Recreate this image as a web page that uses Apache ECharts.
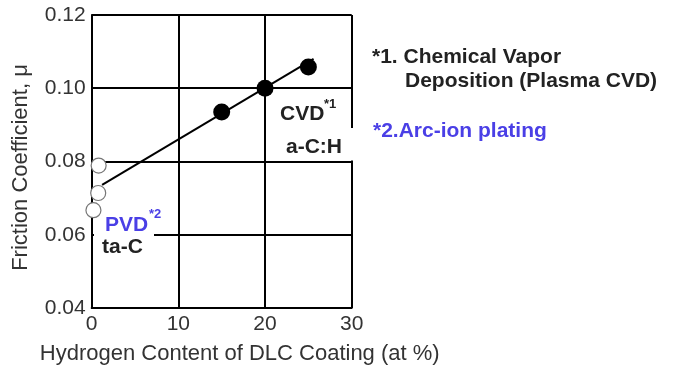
<!DOCTYPE html>
<html>
<head>
<meta charset="utf-8">
<script src="https://cdn.jsdelivr.net/npm/echarts@6/dist/echarts.min.js"></script>
<style>
  html, body { margin: 0; padding: 0; background: #fff; }
  #chart { width: 678px; height: 370px; }
</style>
</head>
<body>
<div id="chart"></div>
<script>
// Hydrogen content (at %) vs friction coefficient for DLC coatings
const pvdPoints = [[0.8, 0.0789], [0.75, 0.0714], [0.2, 0.0667]];   // ta-C, arc-ion plating
const cvdPoints = [[15, 0.0935], [20, 0.1000], [25, 0.1058]];        // a-C:H, plasma CVD
const trendLine = [[1.2, 0.0736], [25.6, 0.1080]];
const xTicks = [0, 10, 20, 30];
const yTicks = [0.04, 0.06, 0.08, 0.10, 0.12];

const FONT = '"Liberation Sans", Arial, Helvetica, sans-serif';
const INK = '#222';
const BLUE = '#4a3fe6';

const chart = echarts.init(document.getElementById('chart'), null, { renderer: 'canvas' });

function txt(text, x, y, opts) {
  return {
    type: 'text', x: x, y: y, z: 11,
    style: Object.assign({
      text: text, fill: INK, font: 'bold 21px ' + FONT,
      textAlign: 'left', textVerticalAlign: 'middle'
    }, opts || {})
  };
}

chart.setOption({
  animation: false,
  backgroundColor: '#fff',
  grid: { left: 91.7, right: 326.3, top: 15, bottom: 58.5 },
  xAxis: {
    type: 'value',
    min: xTicks[0], max: xTicks[xTicks.length - 1], interval: 10,
    name: 'Hydrogen Content of DLC Coating (at %)',
    nameLocation: 'middle', nameGap: 35,
    nameTextStyle: { fontFamily: FONT, fontSize: 22, color: '#333', padding: [0, 0, 0, 36] },
    axisLine: { lineStyle: { color: '#000', width: 2 } },
    axisTick: { show: false },
    axisLabel: { fontFamily: FONT, fontSize: 21, color: '#333', margin: 6 },
    splitLine: { show: true, lineStyle: { color: '#000', width: 2 } }
  },
  yAxis: {
    type: 'value',
    min: yTicks[0], max: yTicks[yTicks.length - 1], interval: 0.02,
    name: 'Friction Coefficient, μ',
    nameLocation: 'middle', nameGap: 60,
    nameTextStyle: { fontFamily: FONT, fontSize: 22, color: '#333', padding: [0, 12, 0, 0] },
    axisLine: { lineStyle: { color: '#000', width: 2 } },
    axisTick: { show: false },
    axisLabel: {
      fontFamily: FONT, fontSize: 21, color: '#333', margin: 6,
      formatter: v => v.toFixed(2)
    },
    splitLine: { show: true, lineStyle: { color: '#000', width: 2 } }
  },
  series: [
    {
      name: 'trend', type: 'line', data: trendLine, showSymbol: false, z: 3,
      lineStyle: { color: '#000', width: 2 }
    },
    {
      name: 'PVD', type: 'scatter', data: pvdPoints, symbol: 'circle', symbolSize: 15, z: 4,
      itemStyle: { color: '#fff', borderColor: '#777', borderWidth: 1.2, opacity: 1 }
    },
    {
      name: 'CVD', type: 'scatter', data: cvdPoints, symbol: 'circle', symbolSize: 17, z: 4,
      itemStyle: { color: '#000', opacity: 1 }
    }
  ],
  graphic: [
    // white label backgrounds that interrupt the grid lines
    { type: 'rect', z: 10, shape: { x: 94, y: 228, width: 60, height: 34 }, style: { fill: '#fff' } },
    { type: 'rect', z: 10, shape: { x: 278, y: 128, width: 78, height: 32.5 }, style: { fill: '#fff' } },

    txt('CVD', 280, 114),
    txt('*1', 324, 104, { font: 'bold 13px ' + FONT }),
    txt('a-C:H', 314, 147, { textAlign: 'center' }),
    txt('PVD', 105, 225, { fill: BLUE }),
    txt('*2', 149, 214, { fill: BLUE, font: 'bold 13px ' + FONT }),
    txt('ta-C', 102, 247),

    txt('*1. Chemical Vapor', 372, 57.5),
    txt('Deposition (Plasma CVD)', 405, 81.5),
    txt('*2.Arc-ion plating', 373, 131, { fill: BLUE })
  ]
});
</script>
</body>
</html>
